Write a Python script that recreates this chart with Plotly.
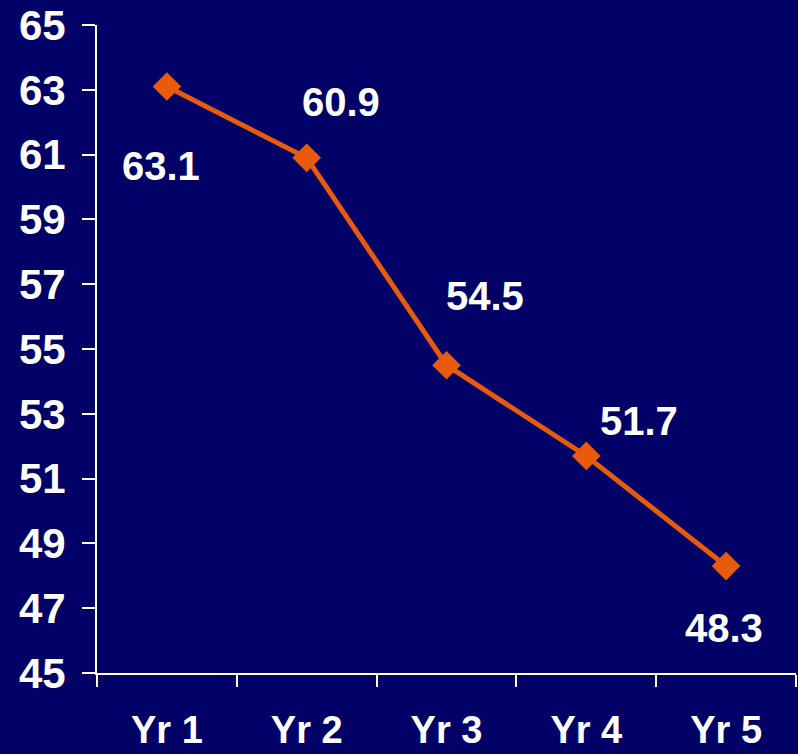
import plotly.graph_objects as go

categories = ["Yr 1", "Yr 2", "Yr 3", "Yr 4", "Yr 5"]
values = [63.1, 60.9, 54.5, 51.7, 48.3]
label_text = ["63.1", "60.9", "54.5", "51.7", "48.3"]
y_ticks = [45, 47, 49, 51, 53, 55, 57, 59, 61, 63, 65]

# label offsets in pixels (xshift, yshift)
label_offsets = [(-6, -79), (34, 56), (38, 69), (53, 35), (-2, -62)]

BG = "#000066"
ORANGE = "#E85A0C"
FAM = "Liberation Sans, Arial, sans-serif"
LABEL_FONT = dict(family=FAM, color="white", size=40, weight="bold")
YTICK_FONT = dict(family=FAM, color="white", size=42, weight="bold")
XTICK_FONT = dict(family=FAM, color="white", size=38, weight="bold")

fig = go.Figure()
fig.add_trace(go.Scatter(
    x=categories, y=values, mode="lines+markers",
    line=dict(color=ORANGE, width=5),
    marker=dict(symbol="diamond", size=22, color=ORANGE),
    showlegend=False, hoverinfo="skip",
))

for c, v, t, (dx, dy) in zip(categories, values, label_text, label_offsets):
    fig.add_annotation(x=c, y=v, text=t, showarrow=False, xshift=dx, yshift=dy,
                       font=LABEL_FONT)

fig.update_layout(
    width=798, height=754,
    margin=dict(l=97, r=2, t=25, b=81),
    paper_bgcolor=BG, plot_bgcolor=BG,
    font=LABEL_FONT,
    xaxis=dict(
        type="category", tickson="boundaries", range=[-0.5, 4.5],
        showline=True, linecolor="white", linewidth=2,
        ticks="outside", ticklen=12, tickwidth=2, tickcolor="white",
        showgrid=False, zeroline=False, tickfont=XTICK_FONT,
        ticklabelstandoff=22,
    ),
    yaxis=dict(
        range=[45, 65], tickvals=y_ticks, ticktext=[str(t) for t in y_ticks],
        showline=True, linecolor="white", linewidth=2,
        ticks="outside", ticklen=13, tickwidth=2, tickcolor="white",
        showgrid=False, zeroline=False, tickfont=YTICK_FONT,
        ticklabelstandoff=8,
    ),
)

fig.write_html("out.html")
